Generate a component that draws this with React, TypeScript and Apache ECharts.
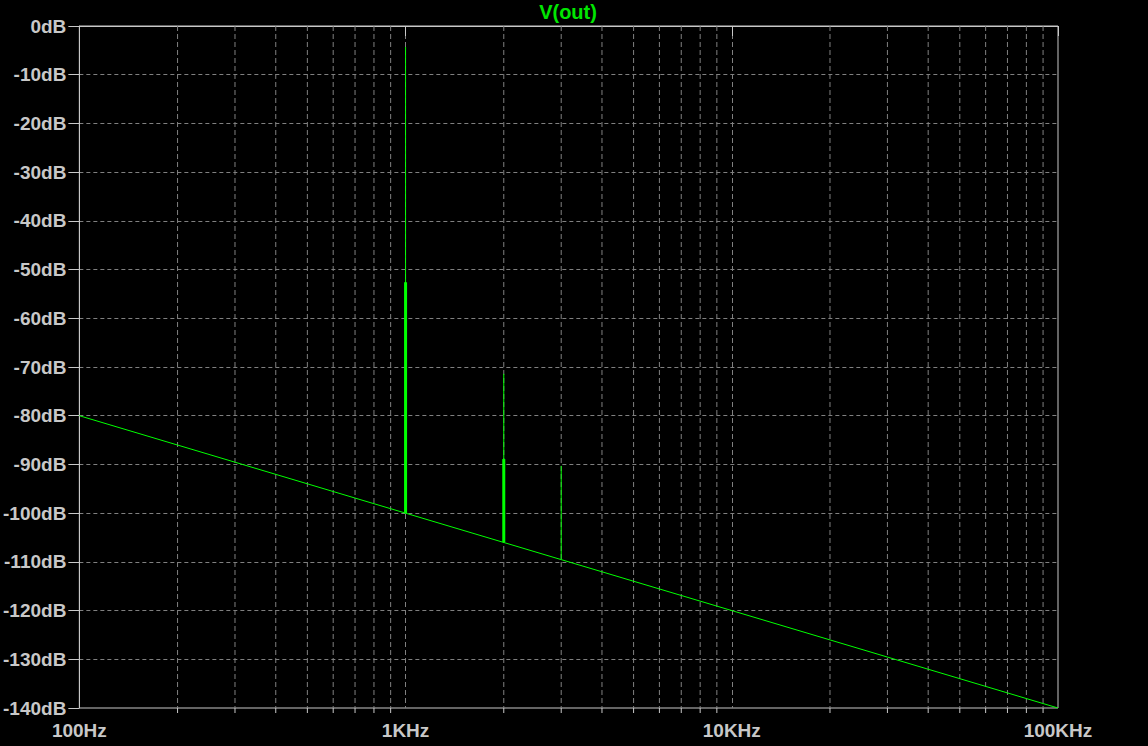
import React, { useEffect, useRef } from "react";
import * as echarts from "echarts";

// Baseline (noise floor) end points
const baselineFreq = [100, 100000];
const baselineDb = [-80, -140];

// Spectral spikes (harmonics)
const spikeFreq = [1000, 2000, 3000];
const spikeBaseDb = [-100, -106.0, -109.5];
const spikeTopDb = [-4.3, -71.4, -90.3];
const spikeThickTopDb: (number | null)[] = [-52.6, -88.9, null];

// Minor log grid frequencies
const minorGridFreq = [
  200, 300, 400, 500, 600, 700, 800, 900,
  2000, 3000, 4000, 5000, 6000, 7000, 8000, 9000,
  20000, 30000, 40000, 50000, 60000, 70000, 80000, 90000,
];

const yMin = -140;
const yMax = 0;
const yStep = 10;
const xMin = 100;
const xMax = 100000;

const FG = "#c8c8c8";
const GRID = "#808080";
const GREEN = "#00ff00";
const FONT = "'Liberation Sans', Arial, sans-serif";

function fmtFreq(v: number) {
  const r = Math.round(v);
  if (r >= 1000) return Math.round(r / 1000) + "KHz";
  return r + "Hz";
}

export default function App() {
  const ref = useRef<HTMLDivElement>(null);
  useEffect(() => {
    if (!ref.current) return;
    const chart = echarts.init(ref.current, undefined, { renderer: "svg" });

    const series: any[] = [];
    series.push({
      type: "custom",
      clip: false,
      silent: true,
      z: 1,
      data: minorGridFreq.map((f) => [f, yMin]),
      renderItem: (params: any, api: any) => {
        const f = api.value(0);
        const top = api.coord([f, yMax]);
        const bot = api.coord([f, yMin]);
        return {
          type: "group",
          children: [
            {
              type: "line",
              shape: { x1: top[0], y1: top[1], x2: bot[0], y2: bot[1] },
              style: { stroke: GRID, lineWidth: 1, lineDash: [5, 3] },
            },
            {
              type: "line",
              shape: { x1: bot[0], y1: bot[1], x2: bot[0], y2: bot[1] + 5 },
              style: { stroke: FG, lineWidth: 1 },
            },
          ],
        };
      },
    });

    series.push({
      type: "line",
      data: baselineFreq.map((f, i) => [f, baselineDb[i]]),
      showSymbol: false,
      symbol: "none",
      lineStyle: { color: GREEN, width: 1 },
      z: 5,
    });

    spikeFreq.forEach((f, i) => {
      series.push({
        type: "line",
        data: [
          [f, spikeBaseDb[i]],
          [f, spikeTopDb[i]],
        ],
        symbol: "none",
        lineStyle: { color: GREEN, width: 1 },
        z: 5,
      });
      const tt = spikeThickTopDb[i];
      if (tt !== null) {
        series.push({
          type: "line",
          data: [
            [f, spikeBaseDb[i]],
            [f, tt],
          ],
          symbol: "none",
          lineStyle: { color: GREEN, width: 3 },
          z: 5,
        });
      }
    });

    chart.setOption({
      animation: false,
      backgroundColor: "#000000",
      title: {
        text: "V(out)",
        left: 568,
        textAlign: "center",
        top: 2,
        padding: 0,
        textStyle: {
          color: "#00e600",
          fontFamily: FONT,
          fontWeight: "bold",
          fontSize: 20,
          lineHeight: 20,
        },
      },
      grid: {
        left: 78,
        right: 90,
        top: 26,
        bottom: 38,
        show: true,
        borderColor: FG,
        borderWidth: 1,
        backgroundColor: "transparent",
      },
      xAxis: {
        type: "log",
        logBase: 10,
        min: xMin,
        max: xMax,
        axisLine: { show: true, lineStyle: { color: FG, width: 1 } },
        axisTick: { show: true, length: 10, inside: false, lineStyle: { color: FG } },
        axisLabel: {
          color: FG,
          fontFamily: FONT,
          fontWeight: "bold",
          fontSize: 19,
          margin: 13,
          showMinLabel: true,
          showMaxLabel: true,
          formatter: (v: number) => fmtFreq(v),
        },
        splitLine: {
          show: true,
          showMinLine: false,
          showMaxLine: false,
          lineStyle: { color: GRID, type: [5, 3], width: 1 },
        },
      },
      yAxis: {
        type: "value",
        min: yMin,
        max: yMax,
        interval: yStep,
        axisLine: { show: true, lineStyle: { color: FG, width: 1 } },
        axisTick: { show: true, length: 11, inside: false, lineStyle: { color: FG } },
        axisLabel: {
          color: FG,
          fontFamily: FONT,
          fontWeight: "bold",
          fontSize: 19,
          margin: 13,
          formatter: (v: number) => Math.round(v) + "dB",
        },
        splitLine: {
          show: true,
          showMinLine: false,
          showMaxLine: false,
          lineStyle: { color: GRID, type: [4, 3], width: 1 },
        },
      },
      series,
    });

    return () => {
      chart.dispose();
    };
  }, []);

  return (
    <div
      ref={ref}
      style={{
        position: "absolute",
        left: 0,
        top: 0,
        width: 1148,
        height: 746,
        background: "#000000",
      }}
    />
  );
}
